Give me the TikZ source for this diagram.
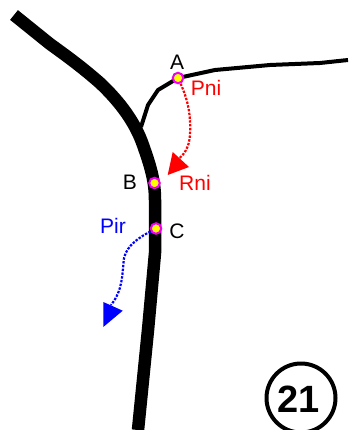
\documentclass[tikz,border=0pt]{standalone}
\usepackage{fontspec}
\setmainfont{Liberation Sans}
\definecolor{ptred}{RGB}{255,0,0}
\definecolor{ptblue}{RGB}{0,0,255}
\definecolor{ptmag}{RGB}{240,0,240}
\definecolor{ptyel}{RGB}{255,255,0}
\tikzset{
  px/.style={x=1pt,y=-1pt},
  point/.style={circle,draw=ptmag,fill=ptyel,line width=2pt,minimum size=10.5pt,inner sep=0pt},
  lbl/.style={font=\fontsize{21}{23}\selectfont,inner sep=0pt},
  road/.style={line join=round,line cap=butt,draw=black},
  pathd/.style={line width=2.2pt,dash pattern=on 2.4pt off 1.4pt},
}
\begin{document}
\begin{tikzpicture}[px]
\useasboundingbox (0,0) rectangle (348,430);
\draw[road,line width=12.5pt] (14,15) -- (50,44) .. controls (75,62) and (85,70) .. (100,83)
  .. controls (120,102) and (135,122) .. (143,145) .. controls (150,165) and (155,180) .. (155,200)
  -- (155,253) -- (148,330) -- (138,430);
\draw[road,line width=4pt] (141,127) -- (148,105) -- (158,90) -- (178,78) -- (215,70) -- (270,65) -- (320,63) -- (348,60);
\node[point] (A) at (178,78) {};
\node[point] (B) at (154.5,183) {};
\node[point] (C) at (156,228.5) {};
\coordinate (RT) at (177,160);
\coordinate (BT) at (111,305);
\fill[ptred] (167.7,175) -- (172.7,152) -- (189,167) -- cycle;
\fill[ptblue] (103.3,302) -- (103.3,327) -- (122.7,310.7) -- cycle;
\draw[ptred,pathd] (A) .. controls (188,100) and (191,115) .. (190,135) .. controls (189,148) and (184,155) .. (RT);
\draw[ptblue,pathd] (C) .. controls (140,237) and (127,245) .. (124,258) .. controls (122,275) and (123,290) .. (BT);
\node[lbl,text=black] (LA) at (177,62.5) {A};
\node[lbl,text=black] (LB) at (130,182.5) {B};
\node[lbl,text=black] (LC) at (177,231) {C};
\node[lbl,text=ptred] (LP) at (206,88) {Pni};
\node[lbl,text=ptred] (LR) at (195,183) {Rni};
\node[lbl,text=ptblue] (LI) at (113,226) {Pir};
\node[circle,draw=black,line width=4pt,minimum size=69pt,inner sep=0pt] (N) at (301,398) {};
\node[font=\fontsize{38}{40}\selectfont\bfseries,inner sep=0pt] (NT) at (298.5,399) {21};
\end{tikzpicture}
\end{document}
